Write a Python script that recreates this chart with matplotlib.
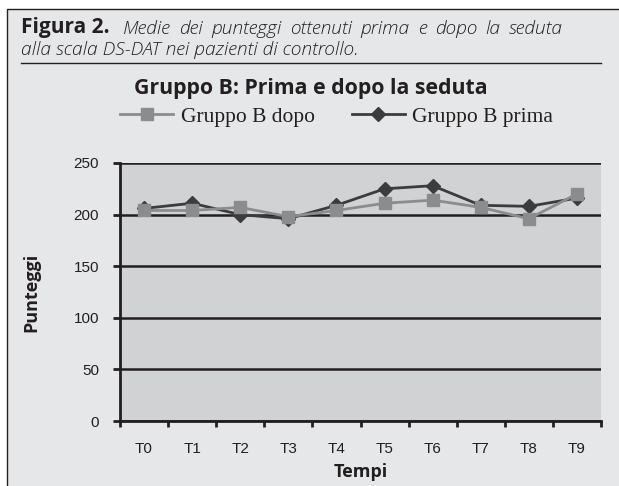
import matplotlib
matplotlib.use("Agg")
import matplotlib.pyplot as plt
from matplotlib.patches import Rectangle
from matplotlib.lines import Line2D

categories = ["T0", "T1", "T2", "T3", "T4", "T5", "T6", "T7", "T8", "T9"]
dopo = [204, 204, 207, 198, 204, 211, 214, 207, 196, 220]
prima = [206, 211, 200, 196, 209, 225, 228, 209, 208, 216]
yticks = [0, 50, 100, 150, 200, 250]

W, H = 619, 486
fig = plt.figure(figsize=(W / 100, H / 100), dpi=100)
fig.patch.set_facecolor("white")

def fx(x):
    return x / W

def fy(y):
    return 1 - y / H

# outer box
fig.patches.append(Rectangle((fx(7), -0.01), fx(619 - 7) + 0.01, fy(9) + 0.01, transform=fig.transFigure,
                             facecolor="#e6e7e8", edgecolor="#231f20", linewidth=1.0, zorder=-5))
# caption
cap_kw = dict(fontfamily="Open Sans", fontstyle="italic", fontweight="light", fontsize=13.8,
              color="#231f20", va="center", ha="left")
fig.text(fx(21), fy(28), "Figura 2.", fontfamily="Open Sans", fontweight="bold", fontsize=15,
         color="#231f20", va="center", ha="left")
# justified first caption line
words = "Medie dei punteggi ottenuti prima e dopo la seduta".split()
renderer = fig.canvas.get_renderer()
objs = [fig.text(0, fy(29), w, **cap_kw) for w in words]
widths = [o.get_window_extent(renderer).width for o in objs]
x0, x1 = 123, 563
gap = (x1 - x0 - sum(widths)) / (len(words) - 1)
cur = x0
for o, wdt in zip(objs, widths):
    o.set_x(fx(cur))
    cur += wdt + gap
fig.text(fx(21), fy(50), "alla scala DS-DAT nei pazienti di controllo.", **cap_kw)
fig.lines.append(Line2D([fx(21), fx(601)], [fy(63), fy(63)], transform=fig.transFigure,
                        color="#231f20", linewidth=1.0))

# title
fig.text(fx(311), fy(88), "Gruppo B: Prima e dopo la seduta", fontfamily="Open Sans",
         fontweight="bold", fontsize=15.3, color="#231f20", ha="center", va="center")

ax = fig.add_axes([fx(120), fy(421), fx(601 - 120), (421 - 163) / H])
ax.set_facecolor("#d1d2d4")
x = list(range(len(categories)))
l1, = ax.plot(x, dopo, color="#8b8c8e", linewidth=2, marker="s", markersize=8,
              markerfacecolor="#8b8c8e", markeredgecolor="#8b8c8e", label="Gruppo B dopo", zorder=4)
l2, = ax.plot(x, prima, color="#3c3c3e", linewidth=2, marker="D", markersize=7,
              markerfacecolor="#3c3c3e", markeredgecolor="#3c3c3e", label="Gruppo B prima", zorder=3)
ax.set_xlim(-0.5, len(categories) - 0.5)
ax.set_ylim(0, 250)
ax.set_yticks(yticks)
ax.set_yticklabels([str(v) for v in yticks], fontfamily="Liberation Sans", fontsize=11, color="#231f20")
ax.set_xticks([i - 0.5 for i in range(len(categories) + 1)])
ax.set_xticklabels([])
ax.set_xticks(x, minor=True)
ax.set_xticklabels(categories, minor=True, fontfamily="Liberation Sans", fontsize=11, color="#231f20")
ax.tick_params(axis="x", which="major", direction="out", length=4.5, width=2, color="#231f20")
ax.tick_params(axis="x", which="minor", length=0, pad=15)
ax.tick_params(axis="y", direction="out", length=5, width=2, color="#231f20", pad=10)
ax.yaxis.grid(True, color="#231f20", linewidth=1.8)
ax.set_axisbelow(True)
for s in ["top", "right"]:
    ax.spines[s].set_visible(False)
ax.spines["left"].set_linewidth(2)
ax.spines["bottom"].set_linewidth(2)
ax.spines["left"].set_color("#231f20")
ax.spines["bottom"].set_color("#231f20")
ax.set_ylabel("Punteggi", fontfamily="Open Sans", fontweight="bold", fontsize=13, color="#231f20", labelpad=24)
ax.set_xlabel("Tempi", fontfamily="Open Sans", fontweight="bold", fontsize=13, color="#231f20", labelpad=5)

fig.legend(handles=[l1, l2], loc="center", bbox_to_anchor=(fx(336.5), fy(117)), ncol=2,
           frameon=False, prop={"family": "Liberation Serif", "size": 15.5}, handlelength=2.46,
           columnspacing=1.72, handletextpad=0.35, labelcolor="#231f20")

fig.savefig("out.png", dpi=100)
